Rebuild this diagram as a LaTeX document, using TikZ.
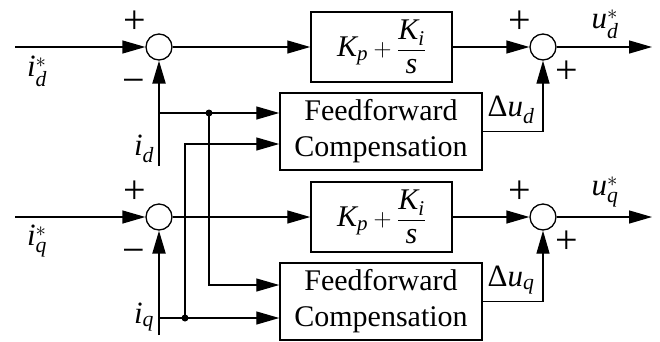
\documentclass[tikz,border=0pt]{standalone}
\usepackage{amsmath}
\usepackage{fontspec}
\setmainfont{Liberation Serif}
\usetikzlibrary{arrows.meta}
\begin{document}
\begin{tikzpicture}[x=1pt,y=-1pt,
  line/.style={line width=1.3pt},
  arr/.style={line, -{Triangle[length=23pt,width=13pt]}},
  fbarr/.style={line width=2.2pt, -{Triangle[length=23pt,width=13pt]}},
  sumnode/.style={circle,draw,line width=1.3pt,minimum size=26pt,inner sep=0pt},
  blk/.style={draw,line width=1.5pt,inner sep=0pt,align=center,font=\fontsize{30}{36}\selectfont},
  lbl/.style={font=\fontsize{31}{34}\selectfont,inner sep=0pt},
  sgn/.style={font=\fontsize{40}{40}\selectfont,inner sep=0pt},
  jdot/.style={circle,fill,minimum size=7pt,inner sep=0pt}]
\useasboundingbox (0,0) rectangle (660,341);

% ---------- row d ----------
\coordinate (inA) at (15,47);
\node[sumnode] (s1) at (159,47) {};
\node[blk,minimum width=141pt,minimum height=70pt] (pi1) at (381.5,47)
  {$\textit{K}_{\textit{p}}+\dfrac{\textit{K}_{\textit{i}}}{\textit{s}}$};
\node[sumnode] (s2) at (543,47) {};
\coordinate (outA) at (652,47);
\node[blk,minimum width=202pt,minimum height=77pt] (ff1) at (381,131.5)
  {Feedforward\\Compensation};

% ---------- row q ----------
\coordinate (inB) at (15,217);
\node[sumnode] (s3) at (159,217) {};
\node[blk,minimum width=141pt,minimum height=70pt] (pi2) at (381.5,217)
  {$\textit{K}_{\textit{p}}+\dfrac{\textit{K}_{\textit{i}}}{\textit{s}}$};
\node[sumnode] (s4) at (543,217) {};
\coordinate (outB) at (652,217);
\node[blk,minimum width=202pt,minimum height=77pt] (ff2) at (381,301.5)
  {Feedforward\\Compensation};

% ---------- forward paths ----------
\draw[arr] (inA) -- (s1);
\draw[arr] (s1) -- (pi1);
\draw[arr] (pi1) -- (s2);
\draw[arr] (s2) -- (outA);
\draw[arr] (inB) -- (s3);
\draw[arr] (s3) -- (pi2);
\draw[arr] (pi2) -- (s4);
\draw[arr] (s4) -- (outB);

% ---------- feedback and feedforward ----------
\coordinate (fbA) at (159,166);
\coordinate (jA) at (159,113);
\coordinate (fbB) at (159,335);
\coordinate (jB) at (159,318);
\node[jdot] (dA) at (209,113) {};
\node[jdot] (dB) at (185,318) {};
\coordinate (kA) at (209,285);
\coordinate (kB) at (185,144);

\draw[fbarr] (fbA) -- (s1.south);
\draw[fbarr] (fbB) -- (s3.south);
\draw[arr] (jA) -- (jA -| ff1.west);
\draw[arr] (jB) -- (jB -| ff2.west);
\draw[arr] (dA.center) -- (kA) -- (kA -| ff2.west);
\draw[arr] (dB.center) -- (kB) -- (kB -| ff1.west);
\draw[arr] (ff1.east) -| (s2.south);
\draw[arr] (ff2.east) -| (s4.south);

% ---------- signs ----------
\node[sgn] (p1) at (135,22) {+};
\node[sgn] (m1) at (134,86) {−};
\node[sgn] (p2) at (520,22) {+};
\node[sgn] (p3) at (567,72) {+};
\node[sgn] (p4) at (135,192) {+};
\node[sgn] (m2) at (134,256) {−};
\node[sgn] (p5) at (520,192) {+};
\node[sgn] (p6) at (567,242) {+};

% ---------- labels ----------
\node[lbl] (lidr) at (37,71) {\textit{i}$^{*}_{\textit{d}}$};
\node[lbl] (lid) at (144,149) {\textit{i}$_{\textit{d}}$};
\node[lbl] (lud) at (605,24) {\textit{u}$^{*}_{\textit{d}}$};
\node[lbl] (ldud) at (511,110) {Δ\textit{u}$_{\textit{d}}$};
\node[lbl] (liqr) at (37,241) {\textit{i}$^{*}_{\textit{q}}$};
\node[lbl] (liq) at (144,317) {\textit{i}$_{\textit{q}}$};
\node[lbl] (luq) at (605,192) {\textit{u}$^{*}_{\textit{q}}$};
\node[lbl] (lduq) at (511,280) {Δ\textit{u}$_{\textit{q}}$};
\end{tikzpicture}
\end{document}
